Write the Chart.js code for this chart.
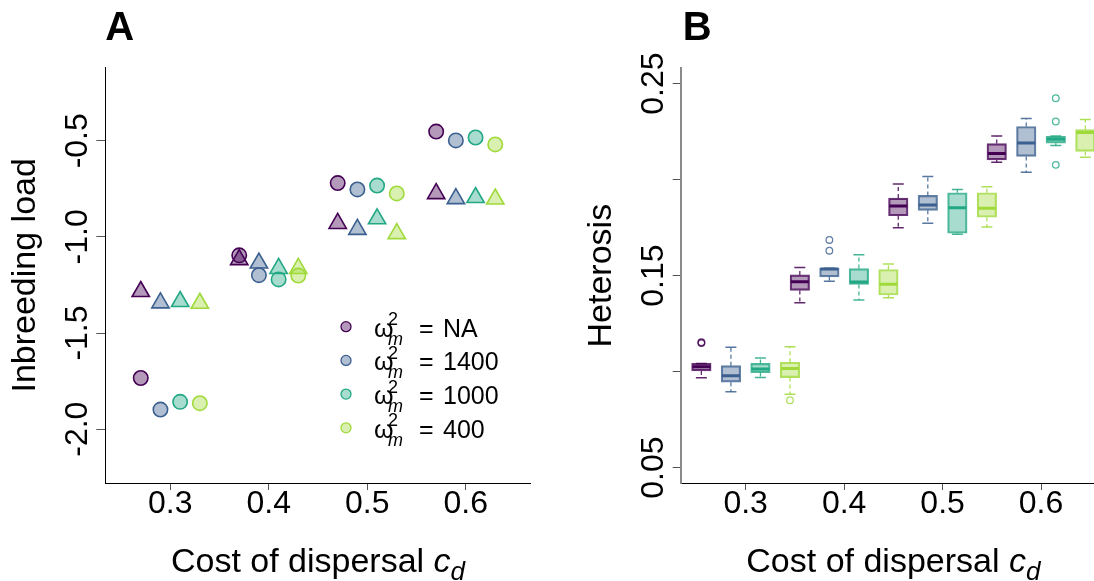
<!DOCTYPE html>
<html>
<head>
<meta charset="utf-8">
<script src="https://cdn.jsdelivr.net/npm/chart.js@4"></script>
<style>
  html, body { margin: 0; padding: 0; background: #fff; width: 1094px; height: 581px; overflow: hidden; }
  #chartA { position: absolute; left: 0; top: 0; }
  #chartB { position: absolute; left: 560px; top: 0; }
</style>
</head>
<body>
<canvas id="chartA" width="547" height="581"></canvas>
<canvas id="chartB" width="560" height="581"></canvas>
<script>
const costs = [0.3, 0.4, 0.5, 0.6];
const seriesLabels = ['NA', '1400', '1000', '400'];
const seriesColors = ['#440154', '#3b5f8f', '#22a884', '#9fda3a'];

const xTicks = [0.3, 0.4, 0.5, 0.6];
const xTickLabels = ['0.3', '0.4', '0.5', '0.6'];
const loadTicks = [-2.0, -1.5, -1.0, -0.5];
const loadTickLabels = ['-2.0', '-1.5', '-1.0', '-0.5'];
const hetTicks = [0.05, 0.10, 0.15, 0.20, 0.25];
const hetTickLabels = ['0.05', '', '0.15', '', '0.25'];

// Panel A - inbreeding load (circles and triangles), one value per cost
const loadCircleNA = [-1.734, -1.096, -0.720, -0.452];
const loadCircle1400 = [-1.898, -1.199, -0.753, -0.498];
const loadCircle1000 = [-1.858, -1.221, -0.733, -0.483];
const loadCircle400 = [-1.865, -1.201, -0.774, -0.519];
const loadTriangleNA = [-1.284, -1.118, -0.930, -0.775];
const loadTriangle1400 = [-1.343, -1.136, -0.961, -0.801];
const loadTriangle1000 = [-1.336, -1.164, -0.906, -0.795];
const loadTriangle400 = [-1.345, -1.164, -0.983, -0.803];

// Panel B - heterosis boxplots; rows = NA, 1400, 1000, 400; columns = costs
const hetLow = [
  [0.0968, 0.1359, 0.1750, 0.2091],
  [0.0895, 0.1471, 0.1773, 0.2038],
  [0.0969, 0.1373, 0.1716, 0.2178],
  [0.0882, 0.1385, 0.1753, 0.2117]
];
const hetQ1 = [
  [0.1004, 0.1423, 0.1812, 0.2103],
  [0.0945, 0.1494, 0.1840, 0.2121],
  [0.0995, 0.1454, 0.1721, 0.2190],
  [0.0969, 0.1399, 0.1804, 0.2147]
];
const hetMedian = [
  [0.1025, 0.1468, 0.1863, 0.2136],
  [0.0978, 0.1534, 0.1868, 0.2191],
  [0.1014, 0.1467, 0.1854, 0.2211],
  [0.1017, 0.1455, 0.1851, 0.2245]
];
const hetQ3 = [
  [0.1043, 0.1504, 0.1904, 0.2188],
  [0.1031, 0.1539, 0.1918, 0.2277],
  [0.1043, 0.1537, 0.1932, 0.2226],
  [0.1049, 0.1532, 0.1932, 0.2261]
];
const hetHigh = [
  [0.1043, 0.1543, 0.1977, 0.2228],
  [0.1127, 0.1539, 0.2017, 0.2318],
  [0.1071, 0.1609, 0.1949, 0.2228],
  [0.1130, 0.1561, 0.1963, 0.2313]
];
const hetOutliers = [
  [[0.3, 0.1153], [0.3, 0.1149]],
  [[0.4, 0.1686], [0.4, 0.1630]],
  [[0.6, 0.2424], [0.6, 0.2303], [0.6, 0.2077]],
  [[0.3, 0.0851]]
];

const offsetA = [-0.03, -0.01, 0.01, 0.03];
const offsetB = [-0.045, -0.015, 0.015, 0.045];
const FONT = '"Liberation Sans", Arial, sans-serif';

function fade(hex, a) {
  const n = parseInt(hex.slice(1), 16);
  return 'rgba(' + (n >> 16) + ',' + ((n >> 8) & 255) + ',' + (n & 255) + ',' + a + ')';
}

function rotatedText(ctx, text, x, y) {
  ctx.save();
  ctx.translate(x, y);
  ctx.rotate(-Math.PI / 2);
  ctx.textAlign = 'center';
  ctx.fillText(text, 0, 0);
  ctx.restore();
}

function costTitle(ctx, cx, y) {
  const parts = [
    ['Cost of dispersal ', '34px ' + FONT, 0],
    ['c', 'italic 34px ' + FONT, 0],
    ['d', 'italic 26px ' + FONT, 8]
  ];
  let total = 0;
  parts.forEach(p => { ctx.font = p[1]; total += ctx.measureText(p[0]).width; });
  let x = cx - total / 2;
  ctx.textAlign = 'left';
  parts.forEach(p => {
    ctx.font = p[1];
    ctx.fillText(p[0], x, y + p[2]);
    x += ctx.measureText(p[0]).width;
  });
}

function panelText(letter, letterShift, yTicks, yLabels, yTitle) {
  return {
    id: 'panelText',
    afterDraw(chart) {
      const ctx = chart.ctx;
      const area = chart.chartArea;
      const xs = chart.scales.x, ys = chart.scales.y;
      ctx.save();
      ctx.fillStyle = '#000';
      ctx.textBaseline = 'alphabetic';
      ctx.font = 'bold 40px ' + FONT;
      ctx.textAlign = 'left';
      ctx.fillText(letter, area.left + letterShift, 40);

      ctx.font = '32px ' + FONT;
      ctx.textAlign = 'center';
      xTicks.forEach((v, i) => ctx.fillText(xTickLabels[i], xs.getPixelForValue(v), area.bottom + 30));
      yTicks.forEach((v, i) => {
        if (yLabels[i]) rotatedText(ctx, yLabels[i], area.left - 18, ys.getPixelForValue(v));
      });

      ctx.font = '34px ' + FONT;
      rotatedText(ctx, yTitle, area.left - 70, (area.top + area.bottom) / 2);
      costTitle(ctx, (area.left + area.right) / 2, area.bottom + 89);
      ctx.restore();
    }
  };
}

// legend with omega_m^2 labels, drawn inside panel A
const legendA = {
  id: 'legendA',
  afterDraw(chart) {
    const ctx = chart.ctx;
    ctx.save();
    seriesLabels.forEach((lab, i) => {
      const y = 326.7 + i * 33.7;
      ctx.beginPath();
      ctx.arc(346, y, 5, 0, Math.PI * 2);
      ctx.fillStyle = fade(seriesColors[i], 0.4);
      ctx.fill();
      ctx.lineWidth = 1.3;
      ctx.strokeStyle = seriesColors[i];
      ctx.stroke();

      ctx.fillStyle = '#000';
      ctx.textAlign = 'left';
      ctx.font = '25px ' + FONT;
      ctx.fillText('\u03c9', 374, y + 10);
      ctx.font = '18px ' + FONT;
      ctx.fillText('2', 388, y - 1.5);
      ctx.font = 'italic 18px ' + FONT;
      ctx.fillText('m', 388, y + 18);
      ctx.font = '25px ' + FONT;
      ctx.fillText('=', 419, y + 10);
      ctx.fillText(lab, 443, y + 10);
    });
    ctx.restore();
  }
};

function axisX(tickLen) {
  return {
    type: 'linear',
    min: 0.234,
    max: 0.666,
    offset: false,
    afterBuildTicks: s => { s.ticks = xTicks.map(v => ({ value: v })); },
    ticks: { display: false },
    grid: { offset: false, drawOnChartArea: false, drawTicks: true, tickLength: tickLen, color: '#555', lineWidth: 1 },
    border: { display: true, color: '#000', width: 1 }
  };
}

// ---------- Panel A ----------
const circleRows = [loadCircleNA, loadCircle1400, loadCircle1000, loadCircle400];
const triangleRows = [loadTriangleNA, loadTriangle1400, loadTriangle1000, loadTriangle400];
const datasetsA = [];
seriesLabels.forEach((lab, s) => {
  datasetsA.push({
    label: 'circle ' + lab,
    data: costs.map((c, g) => ({ x: c + offsetA[s], y: circleRows[s][g] })),
    pointStyle: 'circle',
    pointRadius: 7.2,
    pointBorderWidth: 1.6,
    pointBackgroundColor: fade(seriesColors[s], 0.4),
    pointBorderColor: seriesColors[s]
  });
  datasetsA.push({
    label: 'triangle ' + lab,
    data: costs.map((c, g) => ({ x: c + offsetA[s], y: triangleRows[s][g] })),
    pointStyle: 'triangle',
    pointRadius: 10,
    pointBorderWidth: 1.6,
    pointBackgroundColor: fade(seriesColors[s], 0.4),
    pointBorderColor: seriesColors[s]
  });
});

new Chart(document.getElementById('chartA'), {
  type: 'scatter',
  data: { datasets: datasetsA },
  options: {
    responsive: false,
    animation: false,
    events: [],
    layout: { padding: { left: 96.3, right: 16.3, top: 67.7, bottom: 91 } },
    plugins: { legend: { display: false }, tooltip: { enabled: false } },
    scales: {
      x: axisX(7),
      y: {
        type: 'linear',
        min: -2.28,
        max: -0.12,
        afterBuildTicks: s => { s.ticks = loadTicks.map(v => ({ value: v })); },
        ticks: { display: false },
        grid: { drawOnChartArea: false, drawTicks: true, tickLength: 9, color: '#555', lineWidth: 1 },
        border: { display: true, color: '#000', width: 1 }
      }
    }
  },
  plugins: [panelText('A', 0, loadTicks, loadTickLabels, 'Inbreeding load'), legendA]
});

// ---------- Panel B ----------
const datasetsB = [];
seriesLabels.forEach((lab, s) => {
  const xs = costs.map(c => c + offsetB[s]);
  datasetsB.push({
    type: 'bar',
    label: 'box ' + lab,
    data: xs.map((x, g) => ({ x: x, y: [hetQ1[s][g], hetQ3[s][g]] })),
    backgroundColor: fade(seriesColors[s], 0.4),
    borderColor: fade(seriesColors[s], 0.8),
    borderWidth: 1.5,
    borderSkipped: false,
    barThickness: 19.5,
    grouped: false,
    order: 5
  });
  const whisk = [];
  xs.forEach((x, g) => {
    whisk.push({ x: x, y: hetQ3[s][g] }, { x: x, y: hetHigh[s][g] }, { x: x, y: null });
    whisk.push({ x: x, y: hetQ1[s][g] }, { x: x, y: hetLow[s][g] }, { x: x, y: null });
  });
  datasetsB.push({
    type: 'line',
    label: 'whisker ' + lab,
    data: whisk,
    borderColor: fade(seriesColors[s], 0.85),
    borderWidth: 1.3,
    borderDash: [4, 3],
    pointRadius: 0,
    spanGaps: false,
    order: 4
  });
  const caps = [];
  xs.forEach((x, g) => { caps.push({ x: x, y: hetHigh[s][g] }, { x: x, y: hetLow[s][g] }); });
  datasetsB.push({
    type: 'scatter',
    label: 'cap ' + lab,
    data: caps,
    pointStyle: 'line',
    pointRadius: 5.5,
    pointBorderWidth: 1.5,
    pointBorderColor: fade(seriesColors[s], 0.85),
    order: 3
  });
  datasetsB.push({
    type: 'scatter',
    label: 'median ' + lab,
    data: xs.map((x, g) => ({ x: x, y: hetMedian[s][g] })),
    pointStyle: 'line',
    pointRadius: 9,
    pointBorderWidth: 3,
    pointBorderColor: seriesColors[s],
    order: 2
  });
  datasetsB.push({
    type: 'scatter',
    label: 'outlier ' + lab,
    data: hetOutliers[s].map(p => ({ x: p[0] + offsetB[s], y: p[1] })),
    pointStyle: 'circle',
    pointRadius: 3.3,
    pointBorderWidth: 1.3,
    pointBackgroundColor: 'rgba(255,255,255,0)',
    pointBorderColor: fade(seriesColors[s], 0.8),
    order: 1
  });
});

new Chart(document.getElementById('chartB'), {
  type: 'scatter',
  data: { datasets: datasetsB },
  options: {
    responsive: false,
    animation: false,
    events: [],
    layout: { padding: { left: 112.7, right: 14, top: 68.3, bottom: 91 } },
    plugins: { legend: { display: false }, tooltip: { enabled: false } },
    scales: {
      x: axisX(7),
      y: {
        type: 'linear',
        min: 0.042,
        max: 0.258,
        afterBuildTicks: s => { s.ticks = hetTicks.map(v => ({ value: v })); },
        ticks: { display: false },
        grid: { drawOnChartArea: false, drawTicks: true, tickLength: 8, color: '#555', lineWidth: 1 },
        border: { display: true, color: '#8a8a8a', width: 2 }
      }
    }
  },
  plugins: [panelText('B', 2, hetTicks, hetTickLabels, 'Heterosis')]
});
</script>
</body>
</html>
